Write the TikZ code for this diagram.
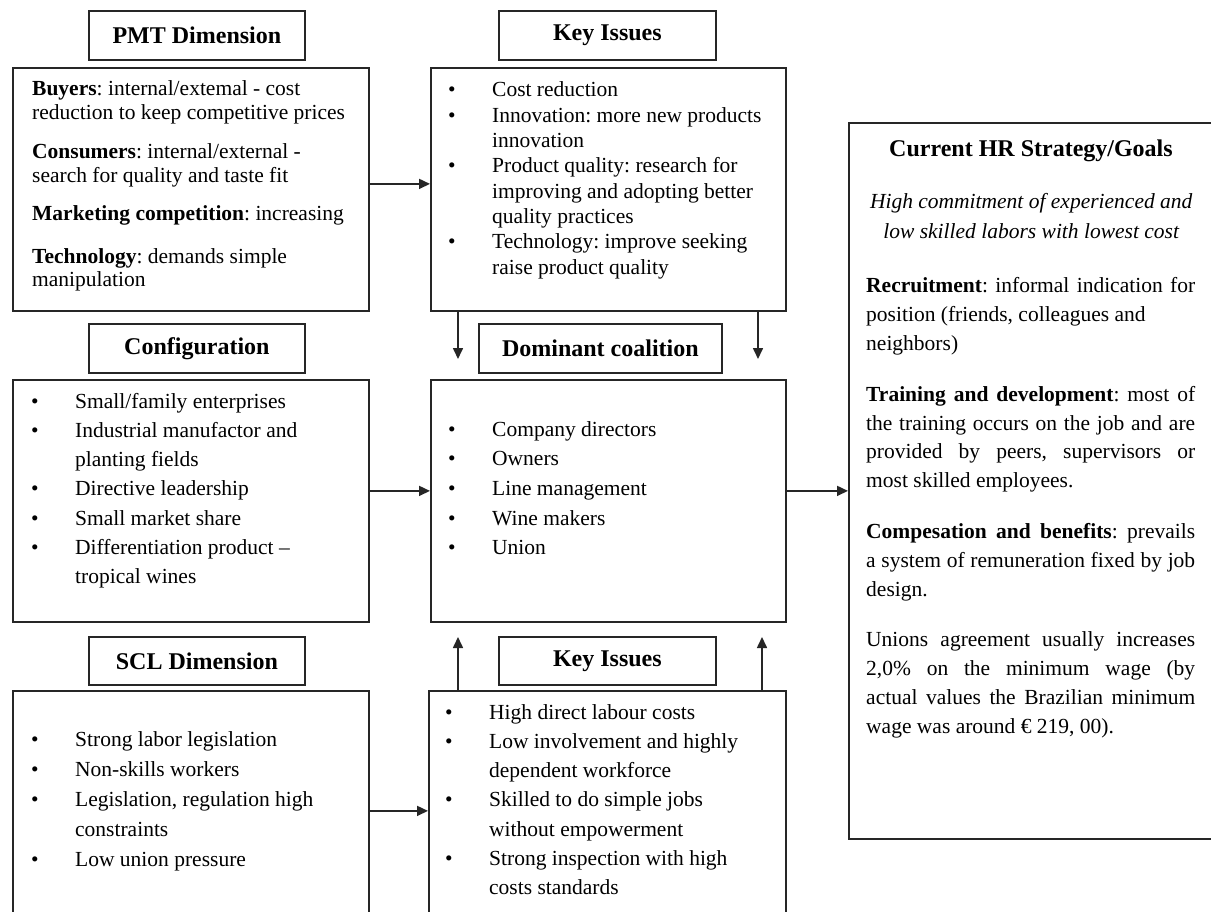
\documentclass[tikz,border=0pt]{standalone}
\usepackage{fontspec}
\setmainfont{Liberation Serif}
\usetikzlibrary{arrows.meta}
\frenchspacing
\newcommand\jline[1]{\makebox[\linewidth][s]{#1}}
\newcommand\itm[1]{\makebox[44pt][l]{\textbullet}#1}
\newcommand\cont[1]{\hspace*{44pt}#1}
\begin{document}
\begin{tikzpicture}[x=1pt,y=-1pt,
  frame/.style={draw=black!85, line width=1.8pt, inner sep=0pt, anchor=north west},
  head/.style={font=\fontsize{24}{28}\selectfont\bfseries},
  body/.style={anchor=base west, inner sep=0pt, align=flush left},
  arr/.style={-{Triangle[length=11pt,width=10pt]}, line width=1.6pt, draw=black!85}]
\useasboundingbox (0,0) rectangle (1211,912);
\fill[white] (0,0) rectangle (1211,912);
\clip (0,0) rectangle (1211,912);

% title boxes
\node[frame, head, minimum width=216pt, minimum height=49pt] (pmtT) at (88,10) {PMT Dimension};
\node[frame, head, minimum width=217pt, minimum height=49pt] (kiT) at (498,10) {Key Issues};
\node[frame, head, minimum width=216pt, minimum height=49pt] (cfgT) at (88,323) {Configuration};
\node[frame, head, minimum width=243pt, minimum height=49pt] (domT) at (478,323) {Dominant coalition};
\node[frame, head, minimum width=216pt, minimum height=48pt] (sclT) at (88,636) {SCL Dimension};
\node[frame, head, minimum width=217pt, minimum height=48pt] (bkT) at (498,636) {Key Issues};

% content boxes
\node[frame, minimum width=356pt, minimum height=243pt] (pmt) at (12,67) {};
\node[frame, minimum width=355pt, minimum height=243pt] (ki) at (430,67) {};
\node[frame, minimum width=356pt, minimum height=242pt] (cfg) at (12,379) {};
\node[frame, minimum width=355pt, minimum height=242pt] (dom) at (430,379) {};
\node[frame, minimum width=356pt, minimum height=240pt] (scl) at (12,690) {};
\node[frame, minimum width=357pt, minimum height=240pt] (bk) at (428,690) {};
\node[frame, minimum width=392pt, minimum height=716pt] (hr) at (848,122) {};

% box texts
\node[body, text width=335pt, font=\fontsize{21.5}{23.5}\selectfont] (pmtX) at (32,96)
 {\textbf{Buyers}: internal/extemal - cost\\ reduction to keep competitive prices\\[16pt]
  \textbf{Consumers}: internal/external -\\ search for quality and taste fit\\[15pt]
  \textbf{Marketing competition}: increasing\\[19pt]
  \textbf{Technology}: demands simple\\ manipulation};

\node[body, text width=335pt, font=\fontsize{21.5}{25.3}\selectfont] (kiX) at (448,97)
 {\itm{Cost reduction}\\ \itm{Innovation: more new products}\\ \cont{innovation}\\
  \itm{Product quality: research for}\\ \cont{improving and adopting better}\\ \cont{quality practices}\\
  \itm{Technology: improve seeking}\\ \cont{raise product quality}};

\node[body, text width=335pt, font=\fontsize{21.5}{29.3}\selectfont] (cfgX) at (31,408)
 {\itm{Small/family enterprises}\\ \itm{Industrial manufactor and}\\ \cont{planting fields}\\
  \itm{Directive leadership}\\ \itm{Small market share}\\
  \itm{Differentiation product –}\\ \cont{tropical wines}};

\node[body, text width=335pt, font=\fontsize{21.5}{29.7}\selectfont] (domX) at (448,436)
 {\itm{Company directors}\\ \itm{Owners}\\ \itm{Line management}\\ \itm{Wine makers}\\ \itm{Union}};

\node[body, text width=335pt, font=\fontsize{21.5}{30}\selectfont] (sclX) at (31,746)
 {\itm{Strong labor legislation}\\ \itm{Non-skills workers}\\
  \itm{Legislation, regulation high}\\ \cont{constraints}\\ \itm{Low union pressure}};

\node[body, text width=335pt, font=\fontsize{21.5}{29.3}\selectfont] (bkX) at (445,719)
 {\itm{High direct labour costs}\\ \itm{Low involvement and highly}\\ \cont{dependent workforce}\\
  \itm{Skilled to do simple jobs}\\ \cont{without empowerment}\\
  \itm{Strong inspection with high}\\ \cont{costs standards}};

% HR strategy box texts
\node[head, anchor=base] (hrT) at (1031,157) {Current HR Strategy/Goals};
\node[body, text width=340pt, align=flush center, font=\fontsize{21.5}{30}\selectfont\itshape] (hrI) at (861,209)
 {High commitment of experienced and\\ low skilled labors with lowest cost};
\node[body, text width=329pt, font=\fontsize{21.5}{28.8}\selectfont] (hrX) at (866,293)
 {\jline{\textbf{Recruitment}: informal indication for}\\ position (friends, colleagues and\\ neighbors)\\[22pt]
  \jline{\textbf{Training and development}: most of}\\ \jline{the training occurs on the job and are}\\
  \jline{provided by peers, supervisors or}\\ most skilled employees.\\[22pt]
  \jline{\textbf{Compesation and benefits}: prevails}\\ \jline{a system of remuneration fixed by job}\\ design.\\[22pt]
  \jline{Unions agreement usually increases}\\ \jline{2,0\% on the minimum wage (by}\\
  \jline{actual values the Brazilian minimum}\\ wage was around € 219, 00).};

% free ends of the vertical connectors
\coordinate (dA) at (458,359);
\coordinate (dB) at (758,359);
\coordinate (uA) at (458,637);
\coordinate (uB) at (762,637);

% connectors
\draw[arr] ([yshift=5.5pt]pmt.east) -- ([yshift=5.5pt]pmt.east -| ki.west);
\draw[arr] ([yshift=10pt]cfg.east) -- ([yshift=10pt]cfg.east -| dom.west);
\draw[arr] ([yshift=10pt]dom.east) -- ([yshift=10pt]dom.east -| hr.west);
\draw[arr] (scl.east) -- (scl.east -| bk.west);
\draw[arr] (ki.south -| dA) -- (dA);
\draw[arr] (ki.south -| dB) -- (dB);
\draw[arr] (bk.north -| uA) -- (uA);
\draw[arr] (bk.north -| uB) -- (uB);
\end{tikzpicture}
\end{document}
